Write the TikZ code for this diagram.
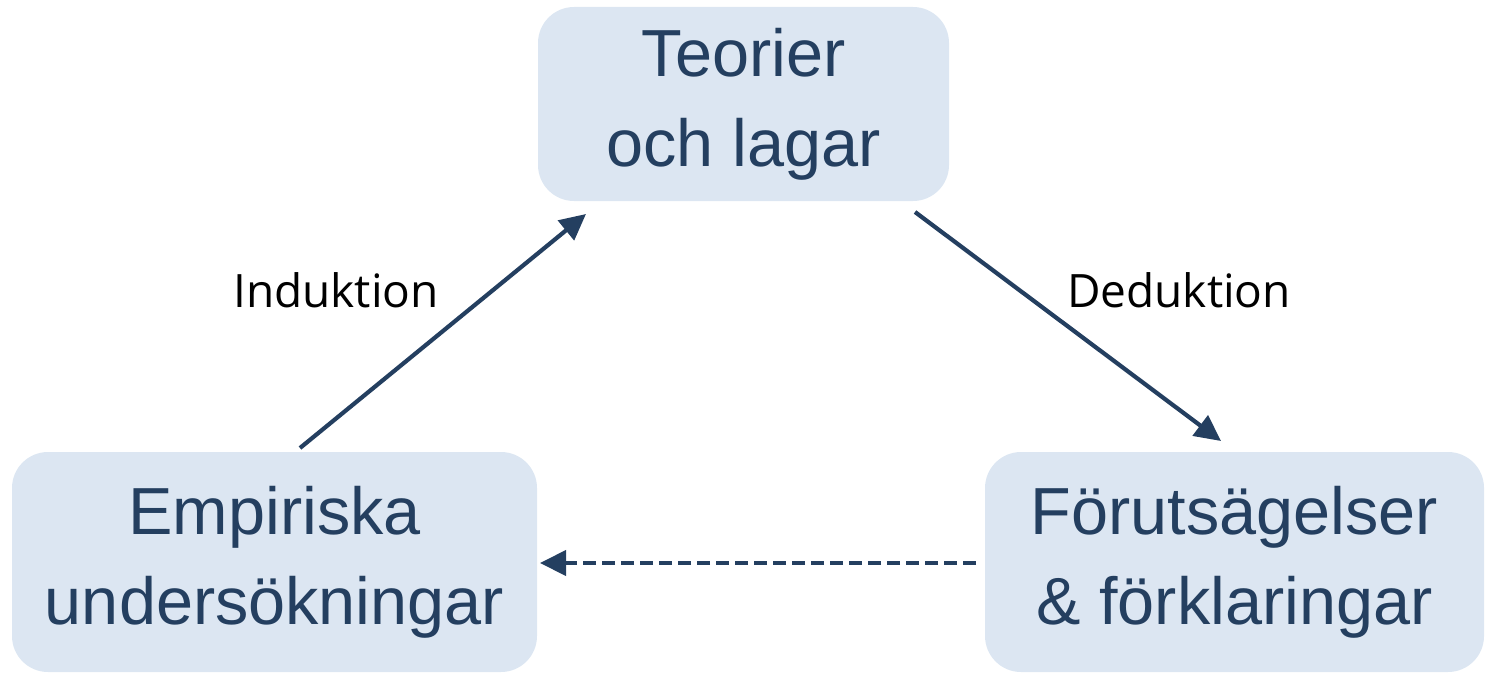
\documentclass[tikz,border=0pt]{standalone}
\usepackage{fontspec}
\setmainfont{Liberation Sans}
\newfontfamily\labelfont{Open Sans}
\usetikzlibrary{arrows.meta}
\definecolor{boxfill}{HTML}{DCE6F2}
\definecolor{ink}{HTML}{243F60}
\begin{document}
\begin{tikzpicture}[x=0.5pt,y=-0.5pt,
  box/.style={fill=boxfill, rounded corners=18pt, inner sep=0pt, align=center,
    text=ink, font=\fontsize{33.3}{45}\selectfont},
  conn/.style={draw=ink, line width=2.1pt, -{Triangle[length=13pt,width=12.5pt]}},
  lbl/.style={font=\labelfont\fontsize{23}{28}\selectfont, text=black}]
\useasboundingbox (0,0) rectangle (1491,674);
\node[box, minimum width=205.5pt, minimum height=97pt] (teo) at (743.5,104) {Teorier\\och lagar};
\node[box, minimum width=262.5pt, minimum height=110pt] (emp) at (274.5,562) {Empiriska\\undersökningar};
\node[box, minimum width=249.5pt, minimum height=110pt] (for) at (1234.5,562) {Förutsägelser\\\&~förklaringar};
\coordinate (i1) at (300,448);
\coordinate (i2) at (586,214);
\coordinate (d1) at (915,212);
\coordinate (d2) at (1221,441);
\coordinate (e1) at (976,563);
\coordinate (e2) at (540,563);
\draw[conn] (i1) -- (i2);
\draw[conn] (d1) -- (d2);
\draw[conn, dash pattern=on 6.5pt off 3pt] (e1) -- (e2);
\node[lbl] (ind) at (336,290) {Induktion};
\node[lbl] (ded) at (1179,290) {Deduktion};
\end{tikzpicture}
\end{document}
